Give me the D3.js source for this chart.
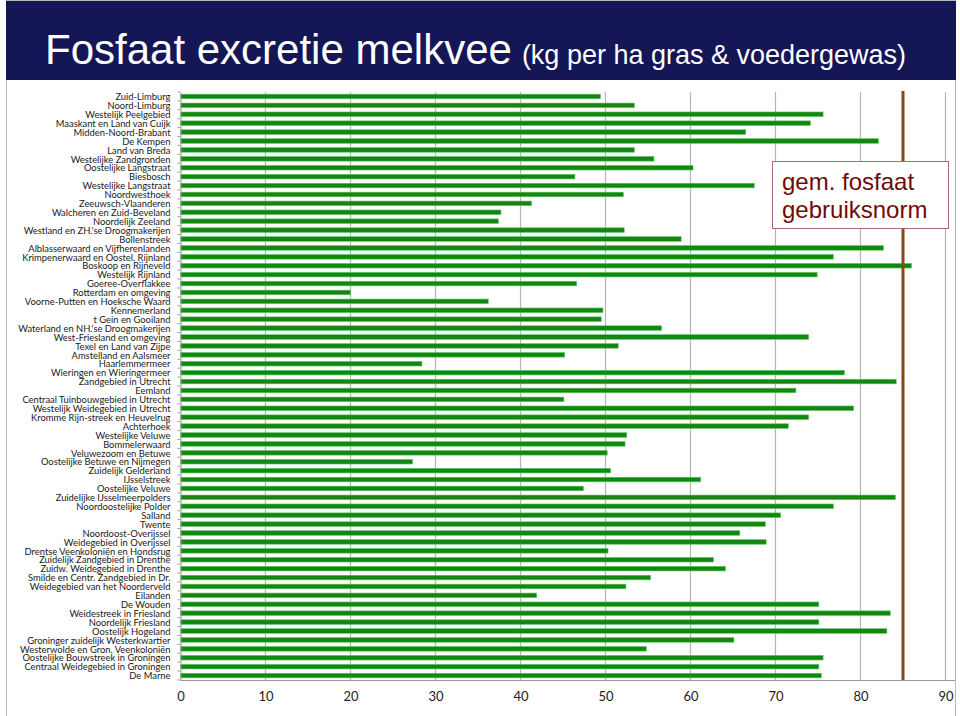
<!DOCTYPE html>
<html><head><meta charset="utf-8">
<script src="https://cdn.jsdelivr.net/npm/d3@7"></script>
<style>body{margin:0;background:#fff}svg{display:block}</style>
</head><body>
<svg id="c" width="960" height="716"></svg>
<script>
const categories = ["Zuid-Limburg","Noord-Limburg","Westelijk Peelgebied","Maaskant en Land van Cuijk","Midden-Noord-Brabant","De Kempen","Land van Breda","Westelijke Zandgronden","Oostelijke Langstraat","Biesbosch","Westelijke Langstraat","Noordwesthoek","Zeeuwsch-Vlaanderen","Walcheren en Zuid-Beveland","Noordelijk Zeeland","Westland en ZH.'se Droogmakerijen","Bollenstreek","Alblasserwaard en Vijfherenlanden","Krimpenerwaard en Oostel. Rijnland","Boskoop en Rijneveld","Westelijk Rijnland","Goeree-Overflakkee","Rotterdam en omgeving","Voorne-Putten en Hoeksche Waard","Kennemerland","t Gein en Gooiland","Waterland en NH.'se Droogmakerijen","West-Friesland en omgeving","Texel en Land van Zijpe","Amstelland en Aalsmeer","Haarlemmermeer","Wieringen en Wieringermeer","Zandgebied in Utrecht","Eemland","Centraal Tuinbouwgebied in Utrecht","Westelijk Weidegebied in Utrecht","Kromme Rijn-streek en Heuvelrug","Achterhoek","Westelijke Veluwe","Bommelerwaard","Veluwezoom en Betuwe","Oostelijke Betuwe en Nijmegen","Zuidelijk Gelderland","IJsselstreek","Oostelijke Veluwe","Zuidelijke IJsselmeerpolders","Noordoostelijke Polder","Salland","Twente","Noordoost-Overijssel","Weidegebied in Overijssel","Drentse Veenkoloniën en Hondsrug","Zuidelijk Zandgebied in Drenthe","Zuidw. Weidegebied in Drenthe","Smilde en Centr. Zandgebied in Dr.","Weidegebied van het Noorderveld","Eilanden","De Wouden","Weidestreek in Friesland","Noordelijk Friesland","Oostelijk Hogeland","Groninger zuidelijk Westerkwartier","Westerwolde en Gron. Veenkoloniën","Oostelijke Bouwstreek in Groningen","Centraal Weidegebied in Groningen","De Marne"];
const values = [49.4,53.4,75.6,74.1,66.5,82.1,53.4,55.7,60.3,46.4,67.5,52.1,41.3,37.7,37.4,52.2,58.9,82.7,76.8,86.0,74.9,46.6,20.0,36.2,49.7,49.5,56.6,73.9,51.5,45.2,28.4,78.1,84.2,72.4,45.1,79.2,73.9,71.5,52.5,52.3,50.2,27.3,50.6,61.2,47.4,84.1,76.8,70.6,68.8,65.8,68.9,50.3,62.7,64.1,55.3,52.4,41.9,75.1,83.5,75.1,83.1,65.1,54.8,75.6,75.1,75.4];
const xTicks = [0,10,20,30,40,50,60,70,80,90];
const normValue = 85;
const titleMain = "Fosfaat excretie melkvee";
const titleSub = "(kg per ha gras & voedergewas)";
const noteLines = ["gem. fosfaat","gebruiksnorm"];

const svg = d3.select("#c");
// slide frame
svg.append("rect").attr("x",6.5).attr("y",0.5).attr("width",949).attr("height",716).attr("fill","#fff").attr("stroke","#b8b8b8");
// title band
svg.append("rect").attr("x",6).attr("y",1).attr("width",950).attr("height",79).attr("fill","#141656");
const tt = svg.append("text").attr("x",45).attr("y",64).attr("fill","#fff").attr("font-family","Liberation Sans, Arial, sans-serif");
tt.append("tspan").attr("font-size",42).text(titleMain);
tt.append("tspan").attr("font-size",27).attr("dx",10).text(titleSub);

const x = d3.scaleLinear().domain([0,90]).range([180.5,945.5]);
const y = d3.scaleBand().domain(categories).range([92,680]).padding(0);

// gridlines
svg.append("g").selectAll("line").data(xTicks.slice(1)).join("line")
  .attr("x1",d=>x(d)).attr("x2",d=>x(d)).attr("y1",92).attr("y2",680)
  .attr("stroke","#b4b4b4").attr("stroke-width",1.2);

// bars
svg.append("g").selectAll("rect").data(values).join("rect")
  .attr("x",x(0)).attr("y",(d,i)=>y(categories[i])+y.bandwidth()/2-2.3)
  .attr("width",d=>x(d)-x(0)).attr("height",4.6)
  .attr("fill","#128812").attr("stroke","#5cc65c").attr("stroke-width",0.6);

// norm line
svg.append("line").attr("x1",x(normValue)).attr("x2",x(normValue)).attr("y1",91).attr("y2",680)
  .attr("stroke","#8b4513").attr("stroke-width",3);

// y axis
const ya = svg.append("g").attr("transform",`translate(${x(0)},0)`)
  .call(d3.axisLeft(y).tickSize(0).tickPadding(10));
ya.select(".domain").attr("stroke","#9a9a9a");
ya.selectAll("text").attr("font-family","Lato, sans-serif").attr("font-size",9.4).attr("fill","#1a1a1a").attr("dy","0.4em");
// band tick marks
svg.append("g").selectAll("line").data(d3.range(categories.length+1)).join("line")
  .attr("x1",x(0)-3).attr("x2",x(0)).attr("y1",i=>92+i*y.step()).attr("y2",i=>92+i*y.step())
  .attr("stroke","#9a9a9a");

// x axis
const xa = svg.append("g").attr("transform","translate(0,680)")
  .call(d3.axisBottom(x).tickValues(xTicks).tickSize(0).tickPadding(12).tickSizeOuter(0));
xa.select(".domain").attr("stroke","#9a9a9a").attr("d","M180.5,0.5H955");
xa.selectAll("text").attr("font-family","Lato, sans-serif").attr("font-size",13).attr("fill","#222");

// annotation
svg.append("rect").attr("x",772.5).attr("y",161.5).attr("width",176).attr("height",67)
  .attr("fill","#fff").attr("stroke","#a86c6c");
svg.append("g").selectAll("text").data(noteLines).join("text")
  .attr("x",782).attr("y",(d,i)=>190+i*27.5).attr("fill","#6e0a0a")
  .attr("font-family","Liberation Sans, Arial, sans-serif").attr("font-size",24).text(d=>d);
</script>
</body></html>
